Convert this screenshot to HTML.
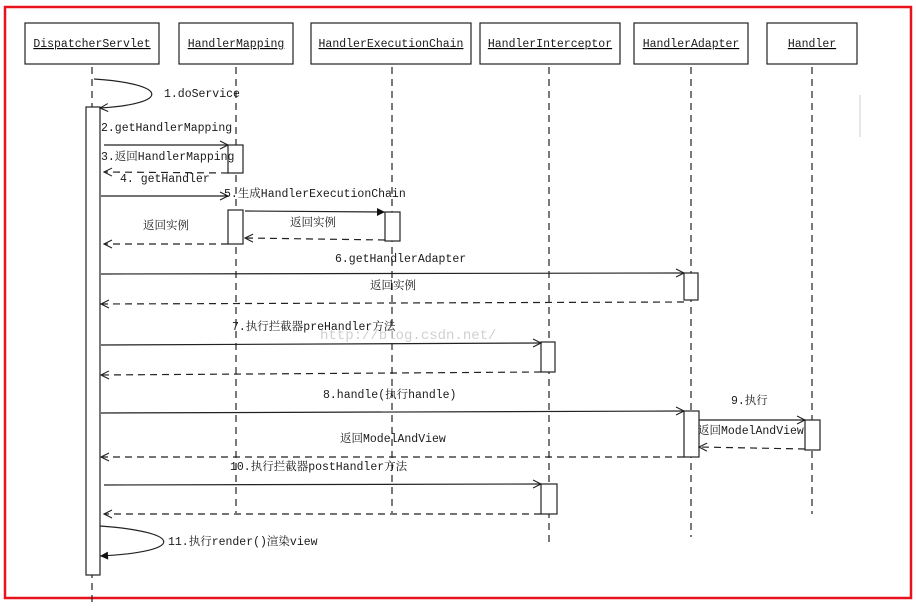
<!DOCTYPE html>
<html><head><meta charset="utf-8"><style>
body{margin:0;background:#fff}
svg text{font-family:"Liberation Mono","Noto Serif CJK SC","Noto Sans CJK SC",monospace;font-size:11.5px;fill:#1a1a1a}
</style></head><body>
<svg width="916" height="604" xmlns="http://www.w3.org/2000/svg">
<defs>
<marker id="o" markerWidth="10" markerHeight="10" refX="9" refY="5" orient="auto" markerUnits="userSpaceOnUse"><path d="M1,1 L9,5 L1,9" fill="none" stroke="#222" stroke-width="1.1"/></marker>
<marker id="f" markerWidth="10" markerHeight="10" refX="9" refY="5" orient="auto" markerUnits="userSpaceOnUse"><path d="M1,1 L9,5 L1,9z" fill="#111"/></marker>
</defs>
<rect x="5" y="7" width="906" height="591" fill="none" stroke="#e8121c" stroke-width="2.5"/>
<g fill="#fff" stroke="#222" stroke-width="1.2">
<rect x="25" y="23" width="134" height="41"/><rect x="179" y="23" width="114" height="41"/>
<rect x="311" y="23" width="160" height="41"/><rect x="480" y="23" width="140" height="41"/>
<rect x="634" y="23" width="114" height="41"/><rect x="767" y="23" width="90" height="41"/>
</g>
<g text-anchor="middle" text-decoration="underline">
<text x="92" y="47">DispatcherServlet</text><text x="236" y="47">HandlerMapping</text>
<text x="391" y="47">HandlerExecutionChain</text><text x="550" y="47">HandlerInterceptor</text>
<text x="691" y="47">HandlerAdapter</text><text x="812" y="47">Handler</text>
</g>
<g stroke="#222" stroke-dasharray="7,5" fill="none" stroke-width="1.2">
<line x1="92" y1="67" x2="92" y2="604"/><line x1="236" y1="67" x2="236" y2="513"/>
<line x1="392" y1="67" x2="392" y2="513"/><line x1="549" y1="67" x2="549" y2="542"/>
<line x1="691" y1="67" x2="691" y2="537"/><line x1="812" y1="67" x2="812" y2="514"/>
</g>
<line x1="860" y1="95" x2="860" y2="137" stroke="#ccc"/>
<g fill="#fff" stroke="#222" stroke-width="1.2">
<rect x="86" y="107" width="14" height="468"/>
<rect x="228" y="145" width="15" height="28"/>
<rect x="228" y="210" width="15" height="34"/>
<rect x="385" y="212" width="15" height="29"/>
<rect x="684" y="273" width="14" height="27"/>
<rect x="541" y="342" width="14" height="30"/>
<rect x="684" y="411" width="15" height="46"/>
<rect x="805" y="420" width="15" height="30"/>
<rect x="541" y="484" width="16" height="30"/>
</g>
<g stroke="#222" fill="none" stroke-width="1.2">
<path d="M94,79 C170,84 170,104 100,108" marker-end="url(#o)"/>
<path d="M100,526 C185,532 185,552 100,556" marker-end="url(#f)"/>
<line x1="104" y1="145" x2="228" y2="145" marker-end="url(#o)"/>
<line x1="101" y1="196" x2="228" y2="196" marker-end="url(#o)"/>
<line x1="245" y1="211" x2="385" y2="212" marker-end="url(#f)"/>
<line x1="101" y1="274" x2="684" y2="273" marker-end="url(#o)"/>
<line x1="101" y1="345" x2="541" y2="343" marker-end="url(#o)"/>
<line x1="101" y1="413" x2="684" y2="411" marker-end="url(#o)"/>
<line x1="699" y1="420" x2="805" y2="420" marker-end="url(#o)"/>
<line x1="104" y1="485" x2="541" y2="484" marker-end="url(#o)"/>
</g>
<g stroke="#222" fill="none" stroke-dasharray="7,5" stroke-width="1.2">
<line x1="228" y1="173" x2="104" y2="172" marker-end="url(#o)"/>
<line x1="385" y1="240" x2="245" y2="238" marker-end="url(#o)"/>
<line x1="228" y1="244" x2="104" y2="244" marker-end="url(#o)"/>
<line x1="684" y1="302" x2="101" y2="304" marker-end="url(#o)"/>
<line x1="541" y1="372" x2="101" y2="375" marker-end="url(#o)"/>
<line x1="684" y1="457" x2="101" y2="457" marker-end="url(#o)"/>
<line x1="805" y1="449" x2="699" y2="447" marker-end="url(#o)"/>
<line x1="541" y1="514" x2="104" y2="514" marker-end="url(#o)"/>
</g>
<text x="164" y="97">1.doService</text>
<text x="101" y="131">2.getHandlerMapping</text>
<text x="101" y="160">3.返回HandlerMapping</text>
<text x="120" y="182">4. getHandler</text>
<text x="224" y="197">5.生成HandlerExecutionChain</text>
<text x="290" y="226">返回实例</text>
<text x="143" y="229">返回实例</text>
<text x="335" y="262">6.getHandlerAdapter</text>
<text x="370" y="289">返回实例</text>
<text x="320" y="339" style="fill:#d0d0d0;font-size:14px">http://blog.csdn.net/</text>
<text x="232" y="330">7.执行拦截器preHandler方法</text>
<text x="323" y="398">8.handle(执行handle)</text>
<text x="731" y="404">9.执行</text>
<text x="340" y="442">返回ModelAndView</text>
<text x="698" y="434">返回ModelAndView</text>
<text x="230" y="470">10.执行拦截器postHandler方法</text>
<text x="168" y="545">11.执行render()渲染view</text>
</svg>
</body></html>
